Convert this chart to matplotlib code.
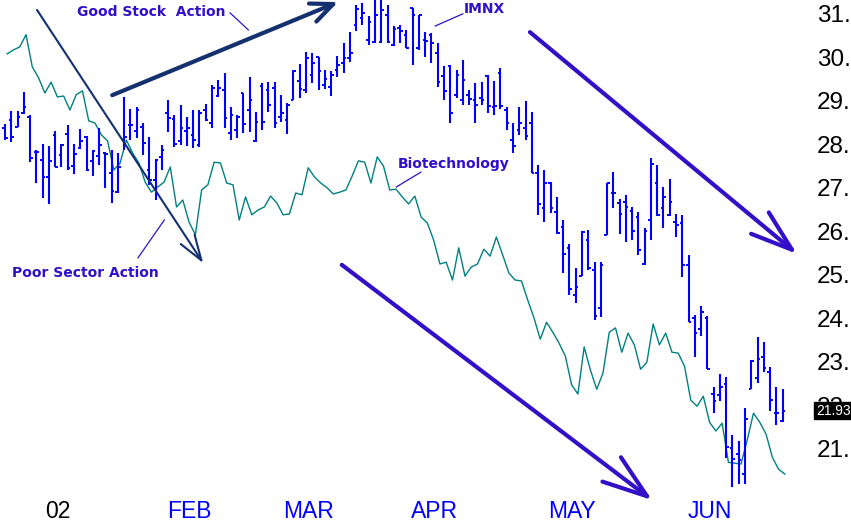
import matplotlib
matplotlib.use("Agg")
import matplotlib.pyplot as plt
import matplotlib.transforms as mtransforms

# ---------------------------------------------------------------------------
# IMNX daily OHLC bars (trading-day index, late Dec 2001 -> mid Jun 2002)
# ---------------------------------------------------------------------------
opens = [
    28.43, 28.61, 28.45, 28.77, 28.68, 27.87, 27.69, 27.30, 28.27, 27.81,
    28.29, 27.55, 27.97, 28.22, 27.67, 27.78, 27.85, 27.39, 26.95, 28.15,
    28.50, 28.36, 28.45, 27.46, 27.23, 27.76, 28.77, 28.63, 28.13, 28.36,
    28.27, 28.04, 28.84, 28.54, 29.16, 29.30, 28.31, 28.38, 29.23, 28.84,
    28.13, 29.39, 29.30, 29.35, 28.68, 28.61, 29.07, 29.51, 29.30, 29.65,
    30.06, 29.42, 29.37, 29.76, 29.92, 30.04, 30.80, 30.96, 30.45, 30.40,
    30.40, 31.03, 30.33, 30.73, 30.57, 31.19, 30.27, 30.45, 30.57, 30.15,
    29.62, 29.85, 29.19, 29.07, 29.19, 29.07, 29.12, 29.62, 28.91, 29.69,
    28.84, 28.15, 28.38, 28.43, 28.54, 27.39, 26.59, 27.16, 26.49, 26.15,
    25.67, 24.59, 25.02, 25.85, 25.16, 24.29, 25.97, 26.93, 26.70, 26.72,
    26.52, 26.38, 25.30, 26.31, 27.16, 26.59, 26.43, 26.26, 26.24, 25.27,
    24.06, 23.80, 24.06, 22.31, 22.29, 22.54, 21.07, 20.93, 20.47, 22.42,
    22.68, 23.16, 22.81, 21.87, 21.69,
]
highs = [
    28.52, 28.82, 28.82, 29.25, 28.73, 27.92, 28.06, 28.01, 28.36, 28.06,
    28.50, 28.06, 28.40, 28.24, 27.92, 28.43, 27.87, 27.92, 27.85, 29.14,
    28.86, 28.91, 28.54, 28.22, 27.71, 28.04, 29.07, 28.73, 28.96, 28.68,
    28.84, 28.84, 28.98, 29.42, 29.53, 29.69, 28.91, 28.73, 29.23, 29.60,
    28.79, 29.46, 29.48, 29.48, 29.19, 29.00, 29.76, 29.90, 30.17, 30.15,
    30.06, 29.76, 29.74, 30.08, 30.38, 30.63, 31.26, 31.30, 31.00, 31.37,
    31.37, 31.26, 30.77, 30.80, 30.68, 31.19, 31.03, 30.63, 30.61, 30.38,
    29.85, 29.87, 29.76, 29.99, 29.30, 29.46, 29.48, 29.65, 29.51, 29.81,
    28.91, 28.54, 28.91, 29.05, 28.79, 27.57, 27.46, 27.18, 26.84, 26.31,
    25.76, 25.21, 26.06, 26.08, 25.34, 25.34, 27.16, 27.41, 26.79, 26.89,
    26.61, 26.49, 26.13, 27.74, 27.57, 27.07, 27.25, 26.45, 26.43, 25.51,
    24.12, 24.33, 24.10, 22.47, 22.77, 22.70, 21.37, 21.23, 21.99, 23.09,
    23.62, 23.50, 22.93, 22.47, 22.42,
]
lows = [
    28.15, 28.10, 28.45, 28.75, 27.64, 27.16, 26.82, 26.68, 27.53, 27.53,
    27.46, 27.37, 27.94, 27.44, 27.32, 27.57, 27.05, 26.70, 26.93, 27.92,
    28.15, 28.20, 27.81, 27.12, 26.77, 27.46, 28.33, 27.99, 28.04, 28.01,
    27.97, 27.99, 28.59, 28.43, 29.14, 28.43, 28.15, 28.20, 28.31, 28.33,
    28.10, 28.38, 28.79, 28.43, 28.56, 28.29, 29.07, 29.12, 29.23, 29.46,
    29.30, 29.32, 29.16, 29.60, 29.69, 29.94, 30.66, 30.80, 30.33, 30.38,
    30.38, 30.38, 30.31, 30.38, 30.27, 29.87, 30.22, 30.06, 29.92, 29.37,
    29.07, 28.54, 29.12, 28.96, 28.96, 28.54, 28.96, 28.77, 28.73, 28.86,
    28.38, 27.85, 28.27, 28.15, 27.39, 26.43, 26.26, 26.47, 25.99, 25.09,
    24.59, 24.40, 25.02, 25.16, 24.01, 24.08, 25.97, 26.59, 25.99, 25.80,
    25.85, 25.51, 25.27, 25.85, 26.40, 26.13, 26.40, 25.92, 25.00, 23.96,
    23.16, 23.64, 22.88, 21.87, 22.15, 20.84, 20.17, 20.24, 20.24, 22.42,
    22.56, 22.81, 21.92, 21.60, 21.66,
]
closes = [
    28.20, 28.22, 28.68, 28.91, 27.74, 27.87, 27.30, 27.67, 27.53, 28.04,
    27.51, 27.83, 28.13, 27.46, 27.90, 28.04, 27.83, 26.98, 27.53, 28.22,
    28.50, 28.84, 28.08, 27.23, 27.69, 27.92, 28.66, 28.06, 28.43, 28.43,
    28.15, 28.77, 28.61, 29.35, 29.35, 28.66, 28.73, 28.68, 28.52, 29.07,
    28.56, 28.56, 28.96, 28.54, 28.77, 28.96, 29.74, 29.32, 30.04, 29.92,
    29.74, 29.55, 29.65, 29.87, 30.04, 30.15, 31.16, 31.07, 30.86, 31.03,
    31.14, 30.40, 30.70, 30.66, 30.27, 31.03, 31.03, 30.43, 30.38, 29.48,
    29.28, 28.77, 29.65, 29.53, 29.09, 28.96, 29.07, 28.93, 28.93, 28.93,
    28.54, 28.01, 28.54, 28.24, 27.39, 26.68, 27.16, 26.59, 26.01, 25.53,
    24.72, 24.77, 26.03, 25.21, 24.10, 25.27, 27.16, 26.93, 26.45, 26.61,
    26.06, 25.62, 26.06, 27.60, 26.43, 26.84, 26.72, 26.20, 25.27, 23.96,
    23.71, 24.19, 22.88, 22.15, 22.47, 21.09, 20.81, 20.79, 21.73, 23.07,
    23.11, 22.91, 22.17, 21.87, 21.93,
]

# Biotechnology sector line, plotted on the same vertical scale
biotech = [
    30.13, 30.22, 30.29, 30.57, 29.83, 29.58, 29.23, 29.48, 29.14, 29.16,
    28.84, 29.19, 29.28, 28.59, 28.54, 28.27, 28.13, 27.46, 27.62, 28.15,
    27.85, 27.62, 27.18, 26.95, 27.07, 27.18, 27.53, 26.61, 26.77, 26.26,
    25.97, 27.00, 27.12, 27.64, 27.62, 27.16, 27.12, 26.31, 26.84, 26.43,
    26.54, 26.61, 26.86, 26.70, 26.43, 26.45, 26.93, 26.89, 27.51, 27.30,
    27.16, 27.05, 26.91, 26.95, 27.00, 27.32, 27.67, 27.64, 27.16, 27.76,
    27.55, 27.00, 27.02, 26.84, 26.68, 26.86, 26.38, 26.24, 25.85, 25.30,
    25.34, 24.93, 25.67, 25.02, 25.23, 25.30, 25.64, 25.48, 25.92, 25.51,
    25.09, 24.93, 24.91, 24.47, 24.06, 23.57, 23.96, 23.73, 23.48, 23.18,
    22.52, 22.31, 23.39, 22.86, 22.42, 22.79, 23.73, 23.83, 23.27, 23.71,
    23.44, 22.88, 23.04, 23.92, 23.44, 23.71, 23.27, 23.25, 22.95, 22.17,
    22.03, 22.26, 21.66, 21.46, 21.64, 20.74, 20.72, 20.70, 21.25, 21.87,
    21.66, 21.39, 20.86, 20.58, 20.47,
]

month_labels = ["02", "FEB", "MAR", "APR", "MAY", "JUN"]
month_index  = [8, 29, 48, 68, 90, 112]
month_colors = ["black", "#0000ff", "#0000ff", "#0000ff", "#0000ff", "#0000ff"]
price_ticks  = [21, 22, 23, 24, 25, 26, 27, 28, 29, 30, 31]
last_label   = "21.93"

# hand-drawn annotations: (text, x, y) and leader lines (x0, y0, x1, y1)
notes = [
    ("Good Stock  Action", 11.5, 31.10),
    ("Poor Sector Action", 1.1, 25.09),
    ("IMNX", 73.2, 31.17),
    ("Biotechnology", 62.7, 27.59),
]
leaders = [
    (35.9, 31.07, 38.8, 30.68),
    (21.2, 25.44, 25.4, 26.31),
    (68.6, 30.77, 73.0, 31.05),
    (62.4, 27.07, 66.3, 27.41),
]
# trend arrows: start, tip, colour, width, head length / width (pt)
arrows = [
    ((5.1, 31.14), (31.6, 25.32), "#14306e", 1.5, 18, 6),
    ((17.1, 29.18), (53.1, 31.32), "#14306e", 3.0, 16, 7),
    ((83.7, 30.63), (126.3, 25.53), "#3310c8", 3.0, 30, 10),
    ((53.7, 25.28), (103.2, 19.87), "#3310c8", 3.0, 32, 11),
]

BAR_BLUE   = "#0000ff"
LINE_TEAL  = "#008080"
NOTE_COLOR = "#3010cc"
NARROW     = ["Liberation Sans Narrow", "Liberation Sans"]

fig = plt.figure(figsize=(8.51, 5.29), dpi=100)
ax = fig.add_axes([0, 0, 1, 1])
ax.set_xlim(-0.8, 134.9)
ax.set_ylim(19.207, 31.368)
ax.axis("off")

idx = list(range(len(closes)))

# --- price bars ---
ax.vlines(idx, lows, highs, color=BAR_BLUE, lw=1.5, zorder=3)
ax.hlines(opens, [i - 0.42 for i in idx], idx, color=BAR_BLUE, lw=1.4, zorder=3)
ax.hlines(closes, idx, [i + 0.42 for i in idx], color=BAR_BLUE, lw=1.4, zorder=3)

# --- sector line ---
ax.plot([i + 0.35 for i in idx], biotech, color=LINE_TEAL, lw=1.0, zorder=2)

# --- price scale on the right ---
right = mtransforms.blended_transform_factory(ax.transAxes, ax.transData)
for v in price_ticks:
    ax.text(0.9995, v, f"{v}.", transform=right, ha="right", va="center",
            fontsize=17.5, family=NARROW, color="black", zorder=4)
ax.text(0.9995, closes[-1], last_label, transform=right, ha="right", va="center",
        fontsize=10, family=NARROW, color="white", zorder=6,
        bbox=dict(boxstyle="square,pad=0.12", facecolor="black", edgecolor="black"))

# --- month labels ---
for lab, i, c in zip(month_labels, month_index, month_colors):
    ax.text(i + 0.45, 19.62, lab, ha="center", va="center",
            fontsize=16.5, family=NARROW, color=c)

# --- annotations ---
for txt, x, y in notes:
    ax.text(x, y, txt, ha="left", va="center", fontsize=10,
            fontweight="bold", color=NOTE_COLOR, zorder=5)
for x0, y0, x1, y1 in leaders:
    ax.plot([x0, x1], [y0, y1], color=NOTE_COLOR, lw=0.9, zorder=5)

for (x0, y0), (x1, y1), col, lw, hl, hw in arrows:
    ax.annotate("", xy=(x1, y1), xytext=(x0, y0),
                arrowprops=dict(arrowstyle=f"->,head_length={hl},head_width={hw}",
                                mutation_scale=1, color=col, lw=lw,
                                shrinkA=0, shrinkB=0),
                zorder=4)

fig.savefig("out.png", dpi=100)
